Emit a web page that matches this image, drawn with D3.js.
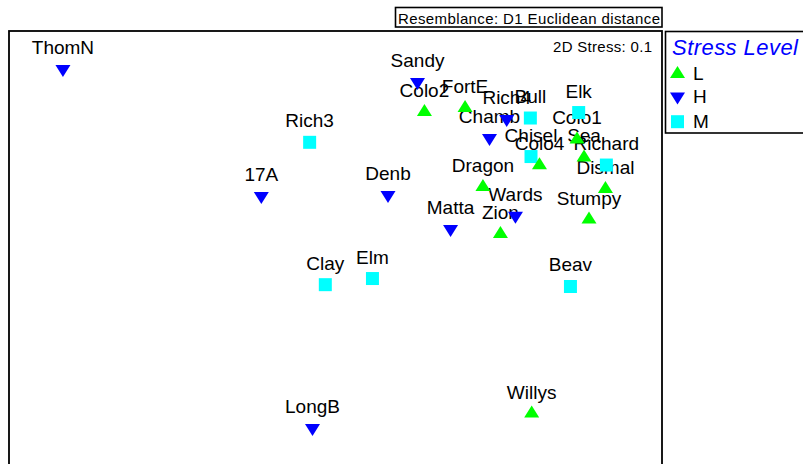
<!DOCTYPE html>
<html>
<head>
<meta charset="utf-8">
<script src="https://cdn.jsdelivr.net/npm/d3@7"></script>
<style>
  html, body { margin: 0; padding: 0; background: #fff; }
  svg { display: block; font-family: "Liberation Sans", Arial, sans-serif; }
</style>
</head>
<body>
<svg id="chart" width="803" height="464"></svg>
<script>
// nMDS ordination of sites (2D configuration)
const sites = ["ThomN","Rich3","17A","Denb","Sandy","Colo2","FortE","Rich4","Bull","Elk",
  "Colo1","Chamb","Chisel","Sea","Colo4","Richard","Dismal","Dragon","Wards","Zion",
  "Matta","Stumpy","Clay","Elm","Beav","LongB","Willys"];
const mds1 = [-2.087,-0.198,-0.568,0.402,0.628,0.681,0.992,1.311,1.492,1.862,
  1.849,1.179,1.497,1.903,1.562,2.074,2.067,1.129,1.378,1.263,
  0.881,1.941,-0.078,0.283,1.799,-0.176,1.502];
const mds2 = [1.301,0.740,0.329,0.337,1.202,0.972,1.003,0.919,0.926,0.968,
  0.762,0.773,0.631,0.624,0.564,0.566,0.383,0.398,0.177,0.038,
  0.076,0.149,-0.350,-0.303,-0.364,-1.447,-1.337];
const stressLevel = ["H","M","H","H","H","L","L","H","M","M",
  "L","H","M","L","L","M","L","L","H","L",
  "H","L","M","M","M","H","L"];

const levels = ["L","H","M"];
const levelColors = ["#00ff00","#0000ff","#00ffff"];
const stressValue = "0.1";
const resemblanceText = "Resemblance: D1 Euclidean distance";
const legendTitle = "Stress Level";

const points = sites.map((s, i) => ({ name: s, x: mds1[i], y: mds2[i], level: stressLevel[i] }));

const svg = d3.select("#chart");

// equal-aspect ordination scales
const x = d3.scaleLinear().domain([-2.5, 2.5]).range([9, 662]);
const y = d3.scaleLinear().domain([1.6, -1.9]).range([30, 487.1]);

const color = d3.scaleOrdinal().domain(levels).range(levelColors);

// marker shapes: triangles anchored at their centroid, square centred
const triUp = { draw(ctx) { ctx.moveTo(0, -8); ctx.lineTo(7.5, 4); ctx.lineTo(-7.5, 4); ctx.closePath(); } };
const triDown = { draw(ctx) { ctx.moveTo(0, 8); ctx.lineTo(7.5, -4); ctx.lineTo(-7.5, -4); ctx.closePath(); } };
const square = { draw(ctx) { ctx.rect(-6.5, -6.5, 13, 13); } };
const shape = d3.scaleOrdinal().domain(levels).range([triUp, triDown, square]);
const symbolPath = lvl => d3.symbol().type(shape(lvl))();

// resemblance caption box
svg.append("rect")
  .attr("x", 395.5).attr("y", 7.5).attr("width", 266.5).attr("height", 19.5)
  .attr("fill", "none").attr("stroke", "#000").attr("stroke-width", 1.6);
svg.append("text")
  .attr("x", 398).attr("y", 24)
  .attr("font-size", 15)
  .attr("textLength", 262).attr("lengthAdjust", "spacing")
  .attr("fill", "#000")
  .text(resemblanceText);

// plot frame
svg.append("rect")
  .attr("x", 9).attr("y", 31).attr("width", 653).attr("height", 460)
  .attr("fill", "none").attr("stroke", "#000").attr("stroke-width", 1.8);

// stress annotation
svg.append("text")
  .attr("x", 553).attr("y", 52)
  .attr("font-size", 15)
  .attr("textLength", 99).attr("lengthAdjust", "spacing")
  .attr("fill", "#000")
  .text("2D Stress: " + stressValue);

// site labels
svg.append("g").selectAll("text")
  .data(points)
  .join("text")
  .attr("x", d => x(d.x))
  .attr("y", d => y(d.y) - 15)
  .attr("text-anchor", "middle")
  .attr("font-size", 19)
  .attr("fill", "#000")
  .text(d => d.name);

// site markers
svg.append("g").selectAll("path")
  .data(points)
  .join("path")
  .attr("transform", d => `translate(${x(d.x)},${y(d.y)})`)
  .attr("d", d => symbolPath(d.level))
  .attr("fill", d => color(d.level));

// legend
const legend = svg.append("g");
legend.append("rect")
  .attr("x", 665.5).attr("y", 31.5).attr("width", 150).attr("height", 101.5)
  .attr("fill", "none").attr("stroke", "#000").attr("stroke-width", 1.6);
legend.append("text")
  .attr("x", 672).attr("y", 54.5)
  .attr("font-size", 22)
  .attr("font-style", "italic")
  .attr("textLength", 126).attr("lengthAdjust", "spacing")
  .attr("fill", "#0000ff")
  .text(legendTitle);
const markerY = [74, 96.5, 121.7];
const labelY = [80, 102.7, 127.7];
const items = legend.selectAll("g.item")
  .data(levels)
  .join("g").attr("class", "item");
items.append("path")
  .attr("transform", (d, i) => `translate(677.5,${markerY[i]})`)
  .attr("d", d => symbolPath(d))
  .attr("fill", d => color(d));
items.append("text")
  .attr("x", 693).attr("y", (d, i) => labelY[i])
  .attr("font-size", 19)
  .attr("fill", "#000")
  .text(d => d);
</script>
</body>
</html>
